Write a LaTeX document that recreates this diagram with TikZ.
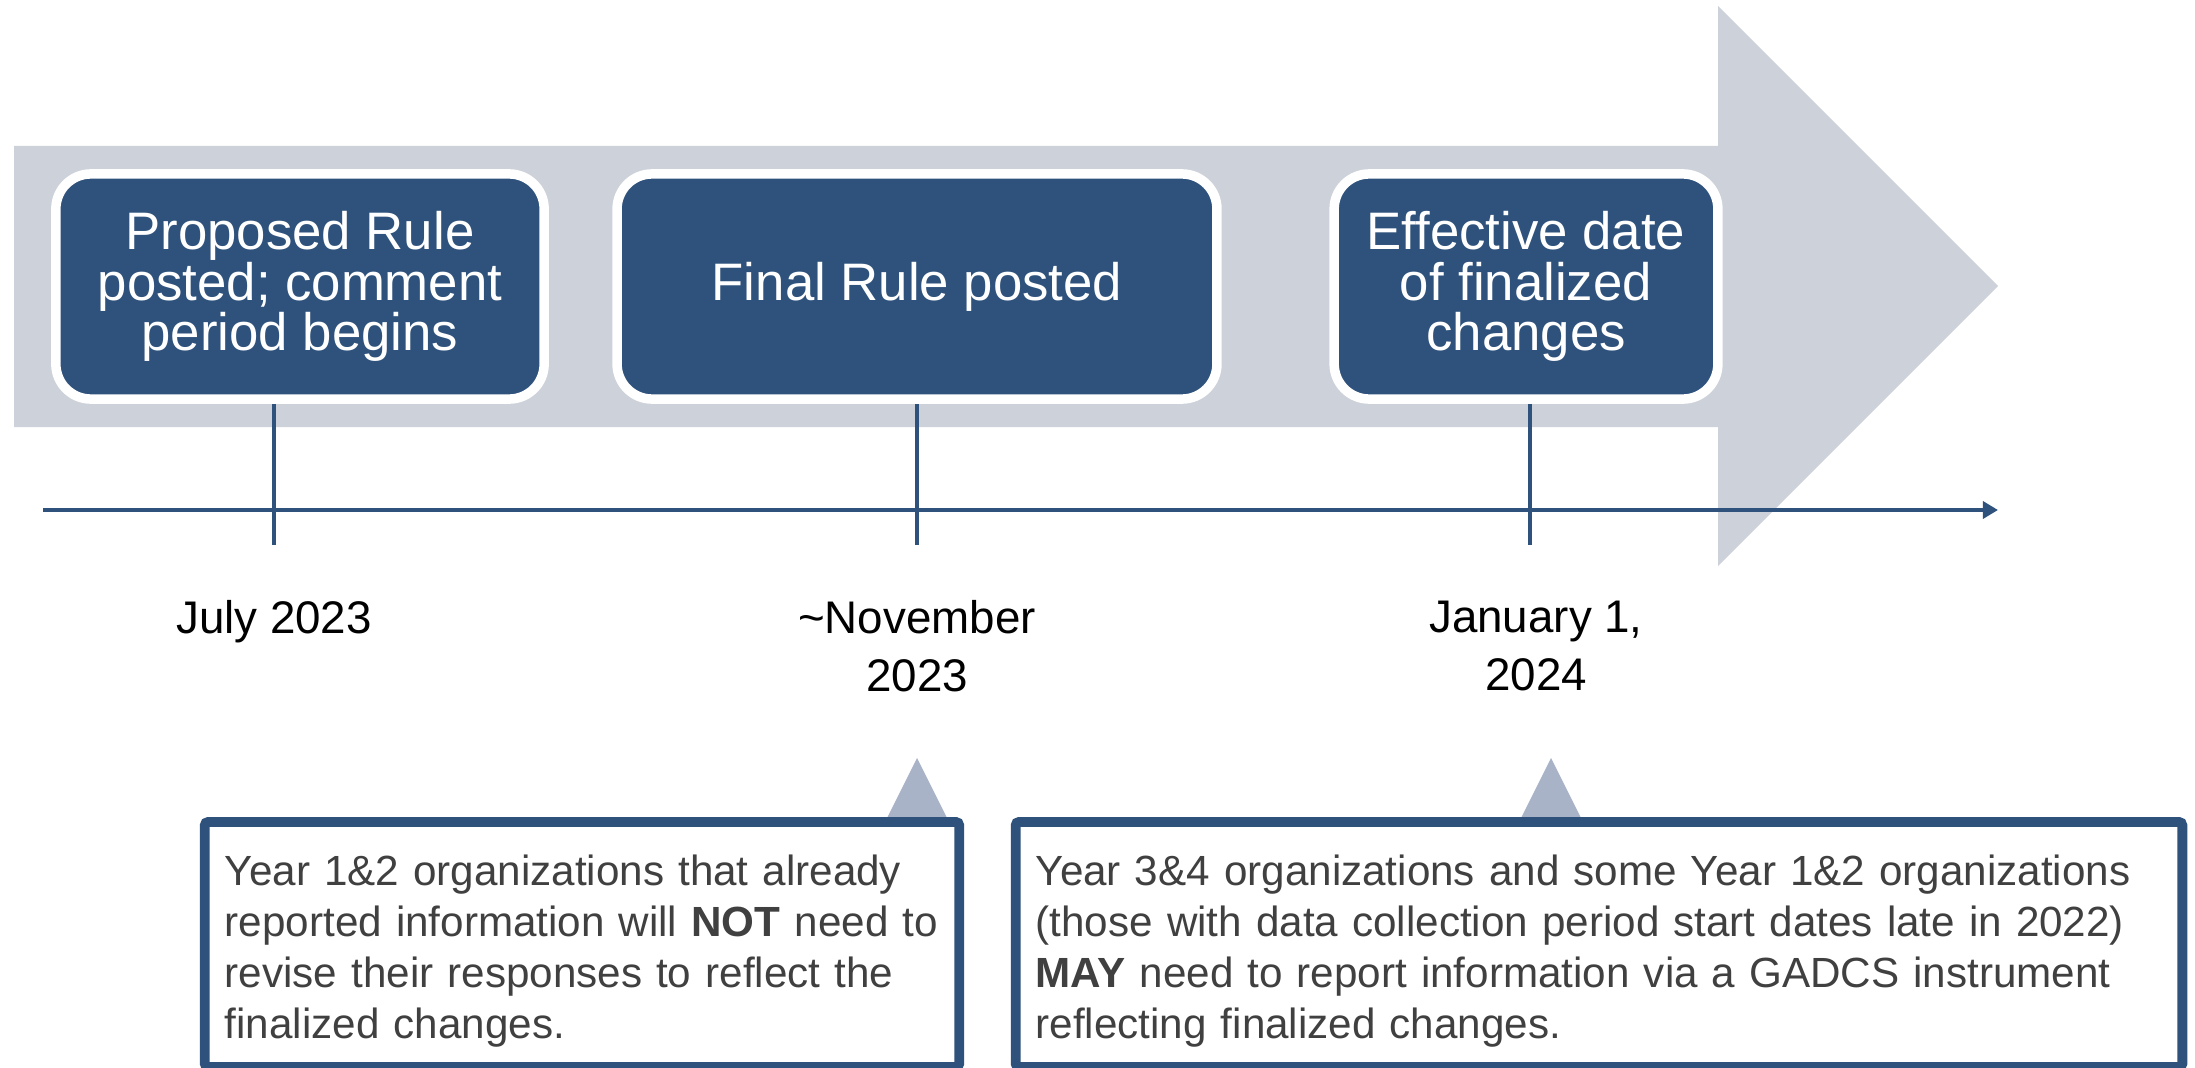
\documentclass[tikz,border=0pt]{standalone}
\usepackage{fontspec}
\setmainfont{Liberation Sans}
\usetikzlibrary{arrows.meta, positioning}
\definecolor{navy}{HTML}{2F527C}
\definecolor{bandgray}{HTML}{CDD1D9}
\definecolor{ptrgray}{HTML}{A8B3C7}
\definecolor{txtgray}{HTML}{404040}
\tikzstyle{event} = [rectangle, rounded corners=0.35cm, fill=navy, draw=white, line width=2.7pt, text=white, align=center, minimum height=2.25cm, inner sep=0pt, font=\fontsize{15pt}{14.3pt}\selectfont]
\tikzstyle{datelabel} = [anchor=north, align=center, inner sep=0pt, font=\fontsize{13pt}{16.5pt}\selectfont]
\tikzstyle{note} = [rectangle, rounded corners=1pt, fill=white, draw=navy, line width=2.8pt, text=txtgray, align=left, minimum height=2.45cm, inner xsep=0.2cm, font=\fontsize{12pt}{14.5pt}\selectfont]
\tikzstyle{tick} = [draw=navy, line width=1.1pt]
\tikzstyle{timeline} = [draw=navy, line width=1.1pt, -{Triangle[length=4.3pt, width=4.8pt]}]

\begin{document}
\begin{tikzpicture}[x=0.01cm, y=-0.01cm]
			\useasboundingbox (0,0) rectangle (2195,1067);
			\fill [bandgray] (14,146) -- (1718,146) -- (1718,6) -- (1998,286) -- (1718,566) -- (1718,427) -- (14,427) -- cycle;

			\node [event, minimum width=4.88cm] (proposed) at (300,286.5) {Proposed Rule\\posted; comment\\period begins};
			\node [event, minimum width=5.995cm] (final) at (917,286.5) {Final Rule posted};
			\node [event, minimum width=3.835cm] (effective) at (1526,286.5) {Effective date\\of finalized\\changes};

			\coordinate (tlstart) at (43,510);
			\coordinate (tlend) at (1998,510);
			\coordinate (t1) at (274,545);
			\coordinate (t2) at (917,545);
			\coordinate (t3) at (1530,545);

			\path [timeline] (tlstart) -- (tlend);
			\path [tick] (proposed.south -| t1) -- (t1);
			\path [tick] (final.south -| t2) -- (t2);
			\path [tick] (effective.south -| t3) -- (t3);

			\node [datelabel] (july) at (274,600) {July 2023};
			\node [datelabel] (nov) at (917,600) {\textasciitilde November\\2023};
			\node [datelabel] (jan) at (1536,600) {January 1,\\2024};

			\fill [ptrgray] (917,758) -- (881,830) -- (953,830) -- cycle;
			\fill [ptrgray] (1551,758) -- (1515,830) -- (1587,830) -- cycle;

			\node [note, text width=7.14cm] (oldorgs) at (582,944.5) {\rule{0pt}{12.2pt}Year 1\&2 organizations that already\\reported information will \textbf{NOT} need to\\revise their responses to reflect the\\finalized changes.};
			\node [note, text width=11.26cm] (neworgs) at (1599,944.5) {\rule{0pt}{12.2pt}Year 3\&4 organizations and some Year 1\&2 organizations\\(those with data collection period start dates late in 2022)\\\textbf{MAY} need to report information via a GADCS instrument\\reflecting finalized changes.};
		\end{tikzpicture}
\end{document}
